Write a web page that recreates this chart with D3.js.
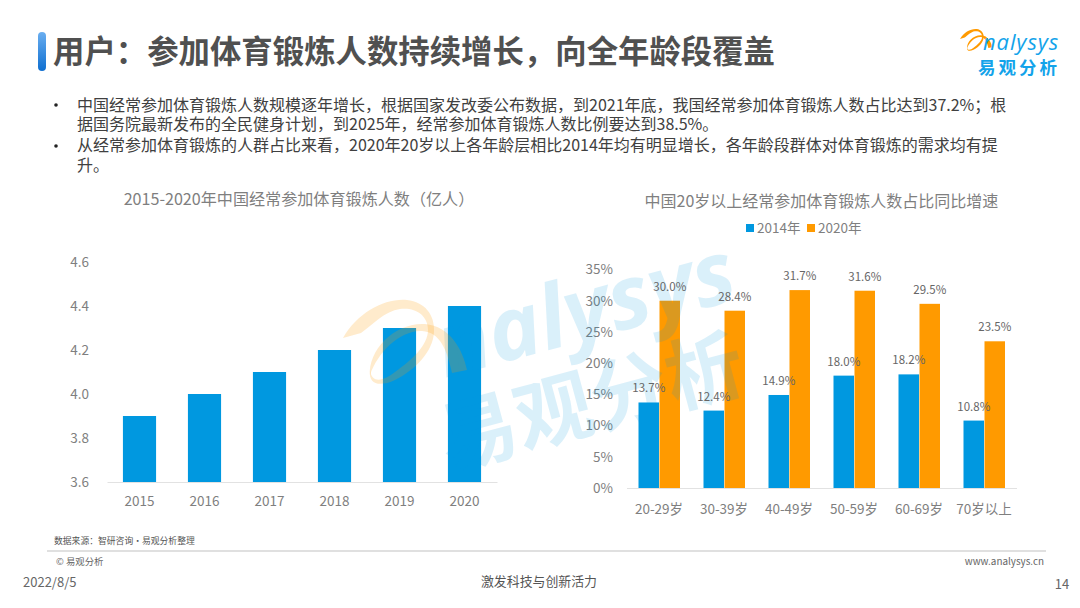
<!DOCTYPE html>
<html>
<head>
<meta charset="utf-8">
<script src="https://cdn.jsdelivr.net/npm/d3@7"></script>
<style>
body{margin:0;background:#fff;overflow:hidden}
text{font-family:"Noto Sans CJK SC","Open Sans",sans-serif}
</style>
</head>
<body>
<svg id="chart" width="1080" height="608"></svg>
<script>
var years = ["2015","2016","2017","2018","2019","2020"]
var people = [3.9,4.0,4.1,4.2,4.3,4.4]
var peopleTicks = [3.6,3.8,4.0,4.2,4.4,4.6]

var ages = ["20-29岁","30-39岁","40-49岁","50-59岁","60-69岁","70岁以上"]
var share2014 = [13.7,12.4,14.9,18.0,18.2,10.8]
var share2020 = [30.0,28.4,31.7,31.6,29.5,23.5]
var shareTicks = [0,5,10,15,20,25,30,35]

var bulletLines = [
  "中国经常参加体育锻炼人数规模逐年增长，根据国家发改委公布数据，到2021年底，我国经常参加体育锻炼人数占比达到37.2%；根",
  "据国务院最新发布的全民健身计划，到2025年，经常参加体育锻炼人数比例要达到38.5%。",
  "从经常参加体育锻炼的人群占比来看，2020年20岁以上各年龄层相比2014年均有明显增长，各年龄段群体对体育锻炼的需求均有提",
  "升。"
]

var blue = "#0098e0", orange = "#ff9a00", grey = "#7f7f7f"
var svg = d3.select("#chart")

var defs = svg.append("defs")
var grad = defs.append("linearGradient").attr("id","tab").attr("x1",0).attr("y1",0).attr("x2",0).attr("y2",1)
grad.append("stop").attr("offset",0).attr("stop-color","#6aaef0")
grad.append("stop").attr("offset",1).attr("stop-color","#0f6fd0")

// the two arcs of the logo, used for the corner logo and the watermark
var swoosh = "M343 338C358 312 385 298 407 300C425 302 435 315 434 332C433 352 415 370 395 380C380 387 368 385 370 370C372 385 385 380 395 372C412 360 428 345 428 330C428 315 415 307 400 309C385 311 372 325 361 333Z"
var tail = "M370 375C368 350 395 322 425 324C450 326 463 350 467 370L452 373C447 350 440 332 422 331C400 330 378 352 370 375Z"

function label(x, y, s, size, color, anchor, weight){
  return svg.append("text").attr("x",x).attr("y",y).text(s)
    .attr("font-size",size).attr("fill",color)
    .attr("text-anchor",anchor || "start")
    .attr("font-weight",weight || 400)
}

// heading
svg.append("rect").attr("x",38).attr("y",32).attr("width",8).attr("height",39).attr("rx",4).attr("fill","url(#tab)")
label(53,63,"用户：参加体育锻炼人数持续增长，向全年龄段覆盖",31.4,"#505050","start",700)

// logo
var logo = svg.append("g").attr("transform","translate(960,29) scale(.26) translate(-343,-300)")
logo.append("path").attr("d",swoosh).attr("fill",orange)
logo.append("path").attr("d",tail).attr("fill",orange)
label(983,50,"nalysys",22,"#13a3ea").attr("font-style","italic").attr("letter-spacing",0.9).style("font-family","'Open Sans'")
label(978,74,"易观分析",17.5,"#13a3ea","start",700).attr("letter-spacing",3)

// bullet text
var lineY = [111,130,151,171]
bulletLines.forEach(function(d,i){
  label(77,lineY[i],d,16,"#404040")
})
svg.selectAll("circle.bullet").data([105,146]).enter().append("circle")
  .attr("class","bullet").attr("cx",56).attr("cy",function(d){return d}).attr("r",1.8).attr("fill","#222")

// left chart
var x1 = d3.scaleBand().domain(years).range([107,497]).paddingInner(0.49).paddingOuter(0.245)
var y1 = d3.scaleLinear().domain([3.6,4.6]).range([482,262])

label(299,205,"2015-2020年中国经常参加体育锻炼人数（亿人）",16.1,grey,"middle")

svg.append("g").selectAll("rect").data(people).enter().append("rect")
  .attr("x",function(d,i){return x1(years[i])})
  .attr("y",function(d){return y1(d)})
  .attr("width",x1.bandwidth())
  .attr("height",function(d){return y1(3.6)-y1(d)})
  .attr("fill",blue)

var axL = svg.append("g").attr("transform","translate(107,0)")
  .call(d3.axisLeft(y1).tickValues(peopleTicks).tickFormat(d3.format(".1f")).tickSize(0).tickPadding(18))
axL.select(".domain").remove()
axL.selectAll("text").attr("font-size",13.5).attr("fill",grey)

var axB = svg.append("g").attr("transform","translate(0,482)")
  .call(d3.axisBottom(x1).tickSize(0).tickPadding(14))
axB.select(".domain").attr("stroke","#e2e2e2")
axB.selectAll("text").attr("font-size",13.5).attr("fill",grey)

// right chart
var x2 = d3.scaleBand().domain(ages).range([626.5,1016.5])
var y2 = d3.scaleLinear().domain([0,35]).range([488,269.5])
var groupW = 42
var barW = 20.5

label(821.5,207,"中国20岁以上经常参加体育锻炼人数占比同比增速",16,grey,"middle")

svg.append("rect").attr("x",746).attr("y",224).attr("width",8).attr("height",8).attr("fill",blue)
label(757,233,"2014年",13.5,grey)
svg.append("rect").attr("x",807).attr("y",224).attr("width",8).attr("height",8).attr("fill",orange)
label(818,233,"2020年",13.5,grey)

var bars = svg.append("g")
bars.selectAll("rect.a").data(share2014).enter().append("rect").attr("class","a")
  .attr("x",function(d,i){return x2(ages[i]) + x2.bandwidth()/2 - groupW/2 + 0.5})
  .attr("y",function(d){return y2(d)})
  .attr("width",barW)
  .attr("height",function(d){return y2(0)-y2(d)})
  .attr("fill",blue)
bars.selectAll("rect.b").data(share2020).enter().append("rect").attr("class","b")
  .attr("x",function(d,i){return x2(ages[i]) + x2.bandwidth()/2 + 0.5})
  .attr("y",function(d){return y2(d)})
  .attr("width",barW)
  .attr("height",function(d){return y2(0)-y2(d)})
  .attr("fill",orange)

var axR = svg.append("g").attr("transform","translate(626,0)")
  .call(d3.axisLeft(y2).tickValues(shareTicks).tickFormat(function(d){return d+"%"}).tickSize(0).tickPadding(13))
axR.select(".domain").remove()
axR.selectAll("text").attr("font-size",13.5).attr("fill",grey)

var axC = svg.append("g").attr("transform","translate(0,488)")
  .call(d3.axisBottom(x2).tickSize(0).tickPadding(16))
axC.select(".domain").attr("stroke","#e2e2e2")
axC.selectAll("text").attr("font-size",13.5).attr("fill",grey)

// watermark goes over the marks
var mark = svg.append("g").attr("pointer-events","none")
mark.append("text").attr("transform","translate(445,378) rotate(-15)")
  .attr("font-size",88).attr("font-style","italic").attr("font-weight",700).attr("fill",blue)
  .attr("opacity",0.14).style("font-family","'Open Sans'").text("nalysys")
mark.append("text").attr("transform","translate(448,469) rotate(-15)")
  .attr("font-size",78).attr("font-weight",700).attr("fill",blue).attr("opacity",0.14).text("易观分析")
mark.append("path").attr("d",swoosh).attr("fill",orange).attr("opacity",0.2)
mark.append("path").attr("d",tail).attr("fill",orange).attr("opacity",0.2)

// data labels
var dataLabels = svg.append("g")
dataLabels.selectAll("text.a").data(share2014).enter().append("text").attr("class","a")
  .attr("x",function(d,i){return x2(ages[i]) + x2.bandwidth()/2 - groupW/2 + 0.5 + barW/2})
  .attr("y",function(d){return y2(d)-10})
  .attr("text-anchor","middle").attr("font-size",11.5).attr("fill","#666")
  .text(function(d){return d.toFixed(1)+"%"})
dataLabels.selectAll("text.b").data(share2020).enter().append("text").attr("class","b")
  .attr("x",function(d,i){return x2(ages[i]) + x2.bandwidth()/2 + 0.5 + barW/2})
  .attr("y",function(d){return y2(d)-10})
  .attr("text-anchor","middle").attr("font-size",11.5).attr("fill","#666")
  .text(function(d){return d.toFixed(1)+"%"})

// footer
label(54,544,"数据来源：智研咨询·易观分析整理",8.8,"#555")
svg.append("line").attr("x1",47).attr("x2",1046).attr("y1",551).attr("y2",551).attr("stroke","#e0e0e0").attr("stroke-width",2)
label(56,565,"© 易观分析",9.4,"#666")
label(1044,565,"www.analysys.cn",9.9,"#666","end")
label(23,587,"2022/8/5",13,"#666")
label(539,586,"激发科技与创新活力",12.9,"#555","middle")
label(1062,589,"14",13,"#666","middle")
</script>
</body>
</html>
